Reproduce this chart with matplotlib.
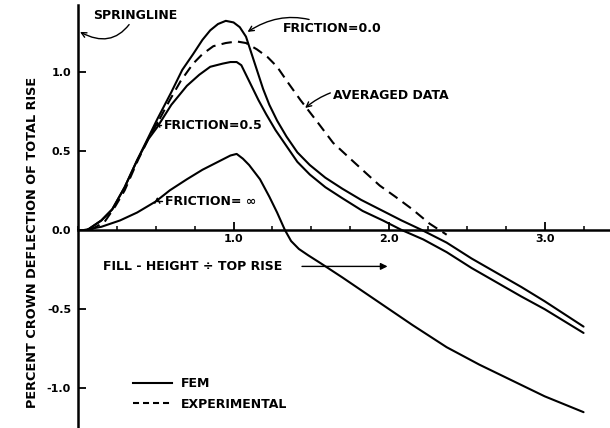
# -*- coding: utf-8 -*-
"""
Deflexão da coroa vs. altura de aterro - recriação do gráfico FEM / experimental
"""

import matplotlib
matplotlib.use("Agg")
import matplotlib.pyplot as plt
from matplotlib.lines import Line2D
from matplotlib.ticker import MultipleLocator

# Dados (x = altura de aterro / flecha, y = % deflexão)
x_f00 = [0.06, 0.15, 0.22, 0.30, 0.38, 0.45, 0.51, 0.60, 0.67, 0.74, 0.80, 0.85,
         0.90, 0.95, 1.00, 1.04, 1.08, 1.11, 1.15, 1.19, 1.23, 1.28, 1.34, 1.41,
         1.49, 1.59, 1.70, 1.82, 1.96, 2.08, 2.21, 2.37, 2.53, 2.69, 2.85, 3.00,
         3.25]
y_f00 = [0.00, 0.06, 0.13, 0.27, 0.44, 0.58, 0.70, 0.87, 1.01, 1.11, 1.20, 1.26,
         1.30, 1.32, 1.31, 1.28, 1.22, 1.13, 1.01, 0.89, 0.79, 0.69, 0.59, 0.49,
         0.41, 0.33, 0.26, 0.19, 0.12, 0.06, 0.00, -0.08, -0.18, -0.27, -0.36, -0.45,
         -0.61]

x_f05 = [0.06, 0.15, 0.22, 0.30, 0.38, 0.45, 0.51, 0.60, 0.70, 0.78, 0.85, 0.93,
         0.98, 1.02, 1.05, 1.08, 1.12, 1.16, 1.21, 1.27, 1.34, 1.41, 1.49, 1.59,
         1.70, 1.83, 1.96, 2.08, 2.22, 2.37, 2.53, 2.69, 2.85, 3.00, 3.25]
y_f05 = [0.00, 0.06, 0.13, 0.27, 0.44, 0.57, 0.65, 0.79, 0.91, 0.98, 1.03, 1.05,
         1.06, 1.06, 1.04, 0.98, 0.90, 0.82, 0.73, 0.63, 0.53, 0.43, 0.35, 0.27,
         0.20, 0.12, 0.06, 0.00, -0.06, -0.14, -0.24, -0.33, -0.42, -0.50, -0.65]

x_finf = [0.04, 0.15, 0.27, 0.38, 0.50, 0.59, 0.70, 0.80, 0.92, 0.98, 1.02, 1.06,
          1.10, 1.17, 1.23, 1.28, 1.33, 1.37, 1.42, 1.48, 1.56, 1.70, 1.94, 2.15,
          2.37, 2.58, 2.79, 3.00, 3.25]
y_finf = [0.00, 0.02, 0.06, 0.11, 0.18, 0.25, 0.32, 0.38, 0.44, 0.47, 0.48, 0.45,
          0.41, 0.32, 0.21, 0.11, 0.00, -0.07, -0.12, -0.16, -0.21, -0.30, -0.46, -0.60,
          -0.74, -0.85, -0.95, -1.05, -1.15]

x_media = [0.08, 0.17, 0.24, 0.30, 0.385, 0.46, 0.53, 0.59, 0.66, 0.74, 0.80, 0.87,
           0.95, 1.02, 1.08, 1.15, 1.22, 1.28, 1.35, 1.43, 1.54, 1.64, 1.75, 1.85,
           1.94, 2.04, 2.15, 2.26, 2.37]
y_media = [0.00, 0.05, 0.15, 0.25, 0.44, 0.59, 0.71, 0.82, 0.94, 1.05, 1.11, 1.16,
           1.18, 1.19, 1.18, 1.14, 1.09, 1.03, 0.93, 0.82, 0.68, 0.55, 0.45, 0.36,
           0.28, 0.21, 0.13, 0.04, -0.03]

y_ticks = [1.0, 0.5, 0.0, -0.5, -1.0]
y_tick_labels = ["1.0", "0.5", "0.0", "-0.5", "-1.0"]
x_ticks = [1.0, 2.0, 3.0]
x_tick_labels = ["1.0", "2.0", "3.0"]

FONTE = dict(family="DejaVu Sans", weight="bold", size=9)
FONTE_TICK = dict(family="DejaVu Sans", weight="bold", size=8)


def gerar_grafico(saida):
    fig = plt.figure(figsize=(6.10, 4.28), dpi=100)
    ax = fig.add_axes([78 / 610, 0, 532 / 610, 423 / 428])

    lw = 1.5
    estilo = dict(color="black", lw=lw, solid_joinstyle="round", solid_capstyle="round")
    ax.plot(x_f00, y_f00, **estilo)
    ax.plot(x_f05, y_f05, **estilo)
    ax.plot(x_finf, y_finf, **estilo)
    ax.plot(x_media, y_media, color="black", lw=lw, linestyle=(0, (5, 3)))

    ax.set_xlim(0, 3.42)
    ax.set_ylim(-1.25, 1.42)

    # eixos cruzando em zero
    for lado in ["top", "right"]:
        ax.spines[lado].set_visible(False)
    ax.spines["left"].set_position(("data", 0))
    ax.spines["bottom"].set_position(("data", 0))
    ax.spines["left"].set_linewidth(1.8)
    ax.spines["bottom"].set_linewidth(1.8)

    ax.set_xticks(x_ticks)
    ax.set_xticklabels(x_tick_labels, **FONTE_TICK)
    ax.xaxis.set_minor_locator(MultipleLocator(0.25))
    ax.tick_params(axis="x", which="major", direction="in", length=6, width=1.3, pad=3)
    ax.tick_params(axis="x", which="minor", direction="in", length=3, width=1.1)

    ax.set_yticks(y_ticks)
    ax.set_yticklabels(y_tick_labels, **FONTE_TICK)
    ax.tick_params(axis="y", direction="in", length=6, width=1.3, pad=5)

    seta = dict(arrowstyle="->", color="black", lw=1.0, shrinkA=0, shrinkB=0)

    # Anotações
    ax.annotate("SPRINGLINE", xy=(0.013, 1.25), xytext=(0.096, 1.355),
                va="center", ha="left",
                arrowprops=dict(seta, connectionstyle="arc3,rad=-0.5"), **FONTE)
    ax.annotate("FRICTION=0.0", xy=(1.09, 1.25), xytext=(1.32, 1.27),
                va="center", ha="left",
                arrowprops=dict(seta, connectionstyle="arc3,rad=0.3"), **FONTE)
    ax.annotate("AVERAGED DATA", xy=(1.46, 0.77), xytext=(1.64, 0.85),
                va="center", ha="left",
                arrowprops=dict(seta, connectionstyle="arc3,rad=0.3"), **FONTE)
    ax.annotate("FRICTION=0.5", xy=(0.51, 0.69), xytext=(0.55, 0.66),
                va="center", ha="left",
                arrowprops=dict(seta, connectionstyle="angle,angleA=0,angleB=90,rad=0"), **FONTE)
    ax.annotate("FRICTION= \u221e", xy=(0.51, 0.21), xytext=(0.56, 0.18),
                va="center", ha="left",
                arrowprops=dict(seta, connectionstyle="angle,angleA=0,angleB=90,rad=0"), **FONTE)

    # rótulo do eixo x dentro do gráfico
    ax.text(0.16, -0.23, "FILL - HEIGHT \u00f7 TOP RISE", va="center", ha="left", **FONTE)
    ax.annotate("", xy=(1.99, -0.23), xytext=(1.44, -0.23),
                arrowprops=dict(arrowstyle="-|>", color="black", lw=1.0,
                                facecolor="white", shrinkA=0, shrinkB=0))

    fig.text(33 / 610, 1 - 242 / 428, "PERCENT CROWN DEFLECTION OF TOTAL RISE",
             rotation=90, va="center", ha="center",
             family="DejaVu Sans", weight="bold", size=9.3)

    # Legenda
    alcas = [Line2D([], [], color="black", lw=lw),
             Line2D([], [], color="black", lw=lw, linestyle=(0, (2.9, 1.9)))]
    ax.legend(alcas, ["FEM", "EXPERIMENTAL"], loc="upper left",
              bbox_to_anchor=(133 / 610, 1 - 377 / 428), bbox_transform=fig.transFigure,
              frameon=False, handlelength=3.1, handletextpad=0.7, labelspacing=0.6,
              borderpad=0, borderaxespad=0, prop=FONTE)

    fig.savefig(saida, dpi=100)
    plt.close(fig)


if __name__ == "__main__":
    gerar_grafico("out.png")
